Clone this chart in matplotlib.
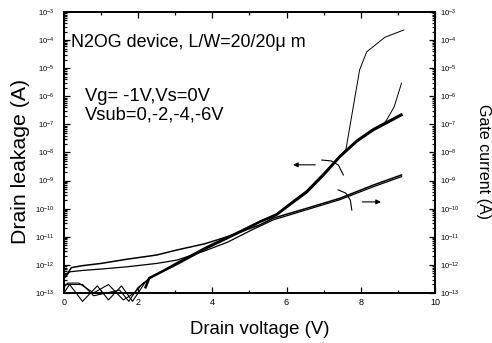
import numpy as np
import matplotlib
matplotlib.use("Agg")
import matplotlib.pyplot as plt
from matplotlib.ticker import LogLocator, MultipleLocator, FixedLocator

plt.rcParams['font.family'] = ['Liberation Sans', 'DejaVu Sans']

# drain leakage, left axis (log10 of current in A)
vd_main = [2.2, 2.3, 3.0, 3.85, 4.7, 5.28, 5.73, 6.1, 6.54, 7.0, 7.44, 7.9, 8.34, 8.7, 9.1]
id_main = [-12.8, -12.47, -12.0, -11.4, -10.86, -10.47, -10.22, -9.85, -9.42, -8.8, -8.15, -7.6, -7.2, -6.95, -6.67]
vd_main2 = [2.1, 2.35, 3.0, 3.85, 4.7, 5.28, 5.73, 6.1, 6.54, 7.0, 7.44, 7.9, 8.34, 8.7, 9.1]
id_main2 = [-12.7, -12.45, -11.95, -11.35, -10.82, -10.45, -10.18, -9.8, -9.36, -8.74, -8.1, -7.55, -7.15, -6.9, -6.62]

vd_bd1 = [7.44, 7.6, 7.97, 8.16, 8.65, 9.16]
id_bd1 = [-8.15, -7.9, -5.06, -4.42, -3.9, -3.64]
vd_bd2 = [8.6, 8.7, 8.9, 9.1]
id_bd2 = [-7.0, -6.84, -6.38, -5.53]

vd_noise1 = [0.0, 0.15, 0.5, 0.9, 1.2, 1.55, 1.85, 2.05, 2.2, 2.3]
id_noise1 = [-13.0, -12.7, -13.3, -12.75, -13.25, -12.75, -13.3, -12.9, -12.6, -12.47]
vd_noise2 = [0.0, 0.1, 0.4, 0.8, 1.2, 1.6, 1.9, 2.1, 2.3]
id_noise2 = [-12.8, -12.65, -12.65, -13.0, -12.7, -13.25, -13.0, -12.7, -12.5]
vd_noise3 = [0.1, 0.5, 0.8, 1.5, 1.75, 2.0, 2.2, 2.35]
id_noise3 = [-12.7, -12.7, -13.1, -12.9, -13.3, -12.8, -12.6, -12.45]

# gate current, right axis
vd_gate1 = [0.0, 0.1, 0.2, 0.5, 1.0, 1.7, 2.5, 3.05, 3.8, 4.4, 5.28, 5.64, 6.54, 7.44, 8.34, 9.1]
ig_gate1 = [-12.4, -12.3, -12.1, -12.03, -11.95, -11.8, -11.65, -11.47, -11.25, -11.0, -10.58, -10.34, -9.99, -9.63, -9.16, -8.8]
vd_gate2 = [0.0, 0.15, 0.5, 1.0, 1.7, 2.5, 3.05, 3.8, 4.4, 5.0, 5.64, 6.54, 7.44, 8.34, 9.1]
ig_gate2 = [-12.5, -12.25, -12.2, -12.15, -12.07, -11.95, -11.83, -11.5, -11.2, -10.8, -10.4, -10.04, -9.68, -9.22, -8.86]

decades = [-13, -12, -11, -10, -9, -8, -7, -6, -5, -4, -3]

fig = plt.figure(figsize=(4.92, 3.43), dpi=100)
ax = fig.add_axes([0.130, 0.146, 0.754, 0.819])
ax2 = ax.twinx()

def lin(v):
    return 10.0 ** np.array(v)

ax.plot(vd_main, lin(id_main), color='black', lw=1.8)
ax.plot(vd_main2, lin(id_main2), color='black', lw=0.9)
ax.plot(vd_bd1, lin(id_bd1), color='black', lw=0.7)
ax.plot(vd_bd2, lin(id_bd2), color='black', lw=0.7)
for xs, ys in [(vd_noise1, id_noise1), (vd_noise2, id_noise2), (vd_noise3, id_noise3)]:
    ax.plot(xs, lin(ys), color='black', lw=0.8, clip_on=False)

ax2.plot(vd_gate1, lin(ig_gate1), color='black', lw=1.1)
ax2.plot(vd_gate2, lin(ig_gate2), color='black', lw=0.9)

for a in (ax, ax2):
    a.set_yscale('log')
    a.set_ylim(1e-13, 1e-3)
    a.yaxis.set_major_locator(FixedLocator([10.0 ** d for d in decades]))
    a.yaxis.set_minor_locator(LogLocator(base=10, subs=np.arange(2, 10), numticks=20))
    a.tick_params(which='both', direction='in', labelsize=5.5, width=0.9)
    a.tick_params(which='major', length=4)
    a.tick_params(which='minor', length=2)
ax.tick_params(axis='y', pad=7)

ax.set_xlim(0, 10)
ax.xaxis.set_major_locator(MultipleLocator(2))
ax.xaxis.set_minor_locator(MultipleLocator(1))
ax.tick_params(top=True, which='both')
ax.tick_params(axis='x', labelsize=6.5)
for a in (ax, ax2):
    for s in a.spines.values():
        s.set_linewidth(1.3)

fig.text(0.528, 0.038, 'Drain voltage (V)', fontsize=13.4, ha='center', va='center')
fig.text(0.041, 0.528, 'Drain leakage (A)', fontsize=15.3, rotation=90, ha='center', va='center')
fig.text(0.982, 0.528, 'Gate current (A)', fontsize=11.5, rotation=270, ha='center', va='center',
         family=['Liberation Sans Narrow', 'Liberation Sans', 'DejaVu Sans'])

ax.text(0.02, 0.893, 'N2OG device, L/W=20/20\u03bc m', transform=ax.transAxes, fontsize=12.9, va='center')
ax.text(0.057, 0.699, 'Vg= -1V,Vs=0V', transform=ax.transAxes, fontsize=13.2, va='center')
ax.text(0.057, 0.633, 'Vsub=0,-2,-4,-6V', transform=ax.transAxes, fontsize=13.2, va='center')

# arrows and arcs
ax.annotate('', xy=(6.1, 10 ** -8.44), xytext=(6.85, 10 ** -8.44),
            arrowprops=dict(arrowstyle='-|>', color='black', lw=0.8, mutation_scale=7))
ax.plot([6.95, 7.2, 7.4, 7.53], lin([-8.27, -8.3, -8.45, -8.8]), color='black', lw=0.8)
ax2.annotate('', xy=(8.62, 10 ** -9.76), xytext=(7.97, 10 ** -9.76),
             arrowprops=dict(arrowstyle='-|>', color='black', lw=0.8, mutation_scale=7))
ax2.plot([7.39, 7.6, 7.72, 7.76], lin([-9.33, -9.45, -9.7, -10.05]), color='black', lw=0.8)

fig.savefig('out.png', dpi=100)
